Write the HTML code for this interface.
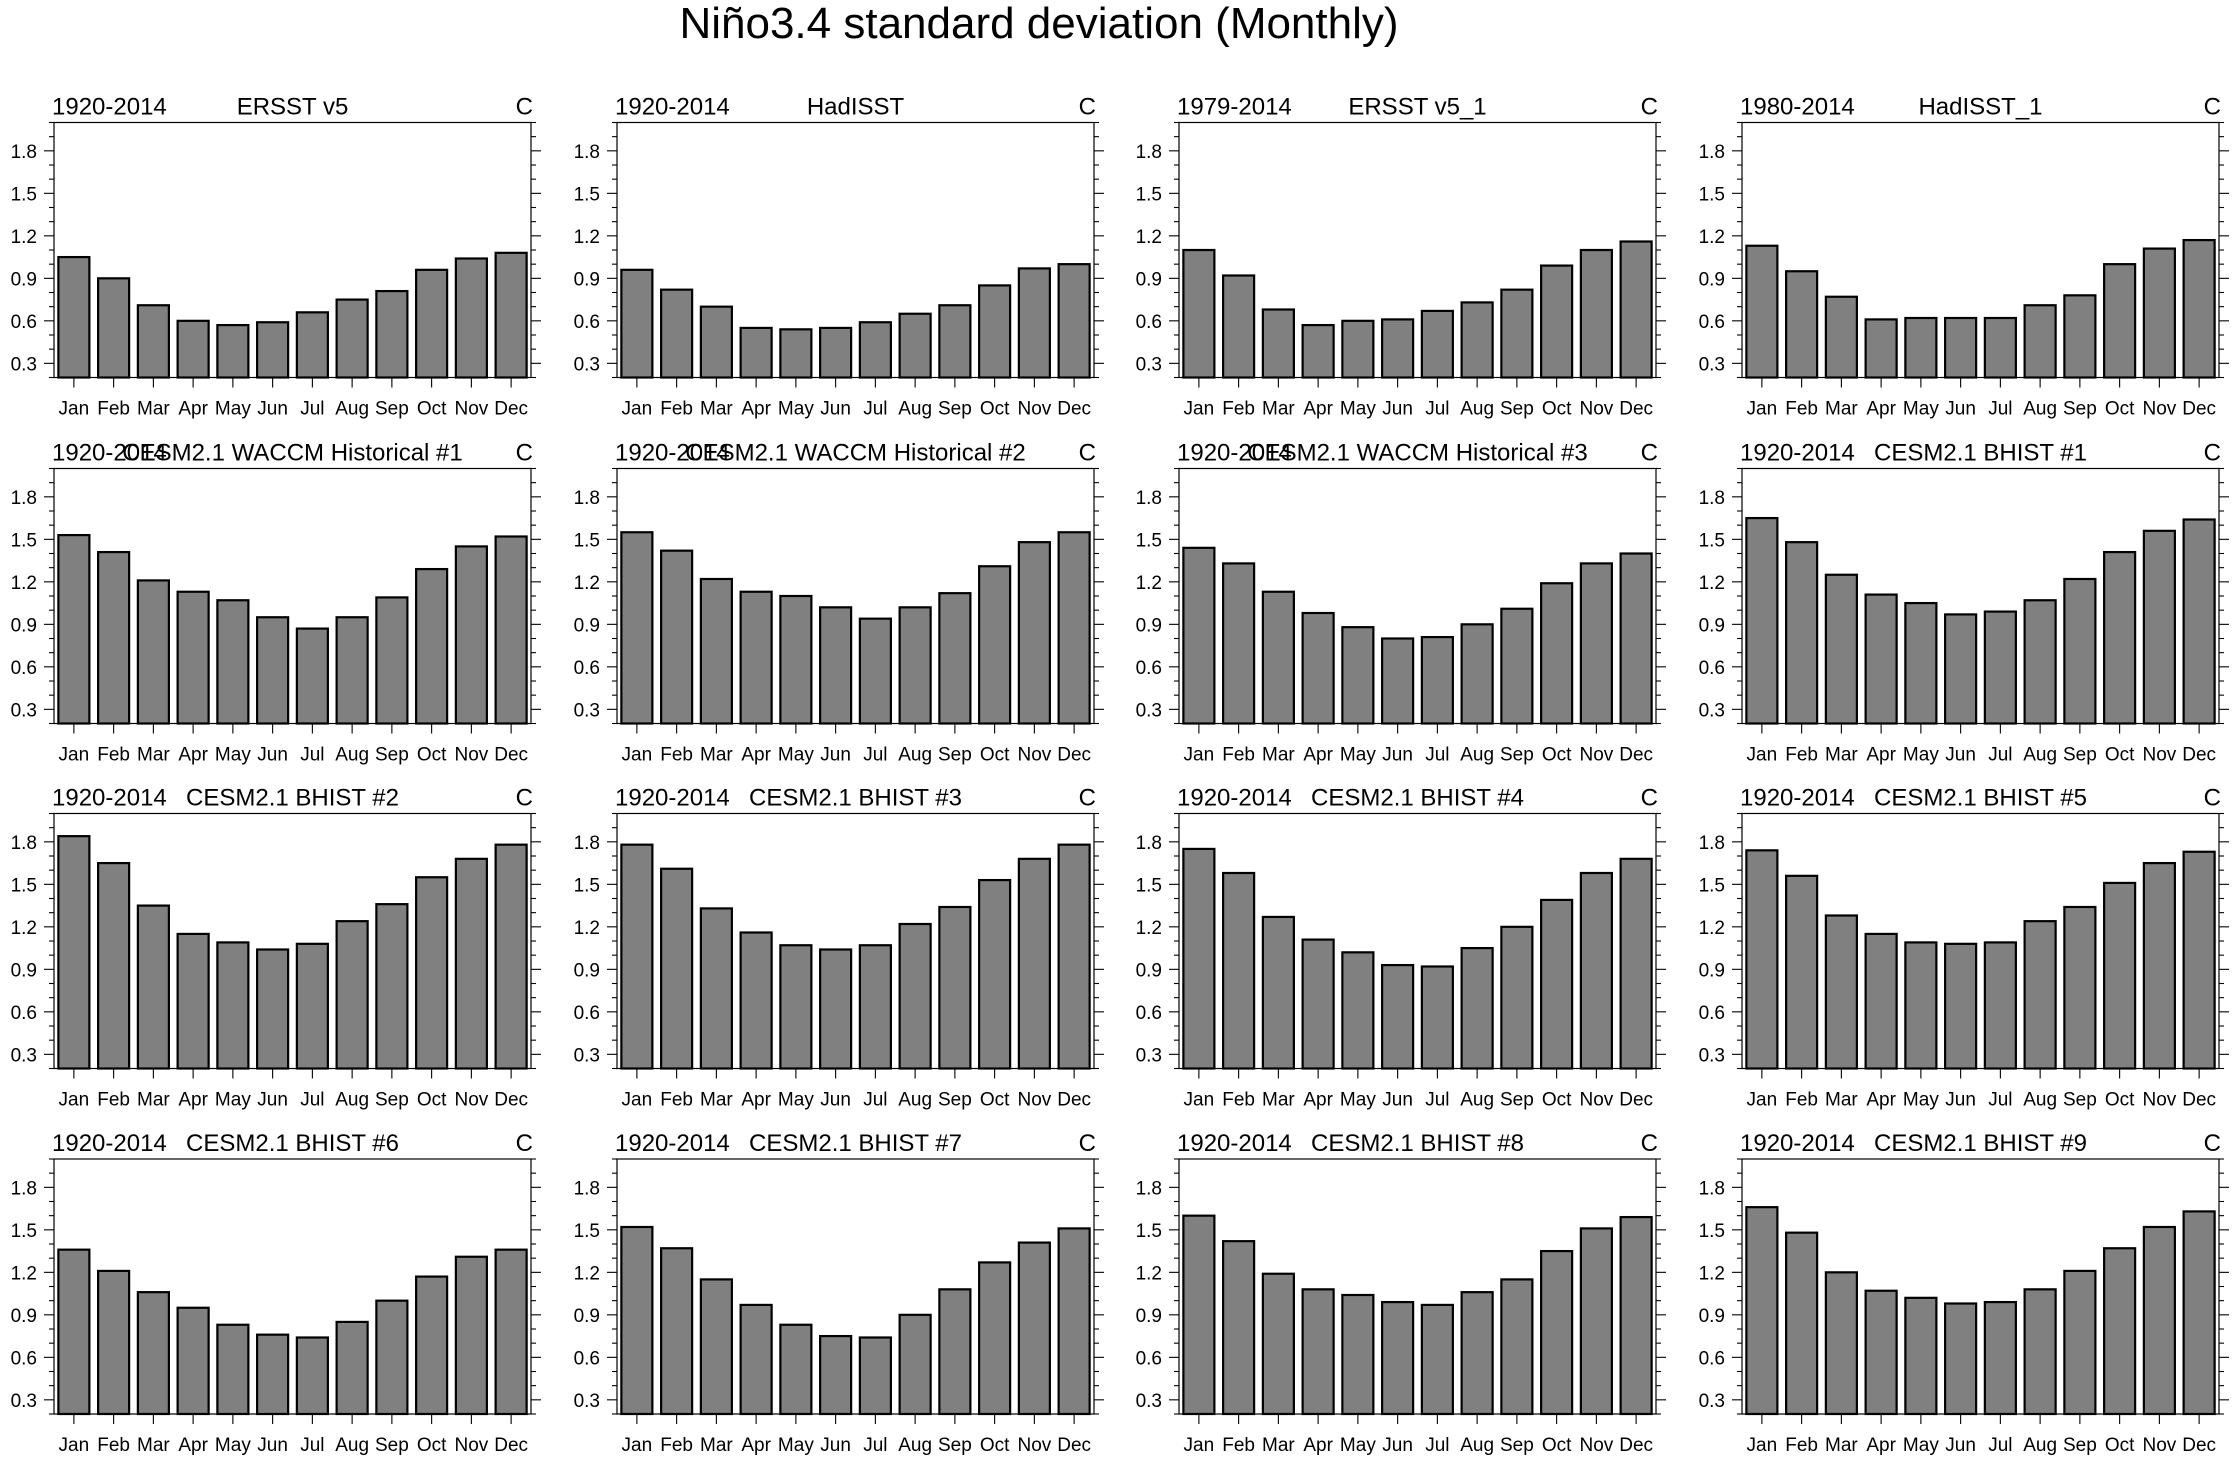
<!DOCTYPE html>
<html><head><meta charset="utf-8"><style>
html,body{margin:0;padding:0;background:#fff;}
svg{display:block;font-family:"Liberation Sans",Arial,sans-serif;}
</style></head><body>
<svg id="fig" width="2233" height="1463" viewBox="0 0 2233 1463">
<text x="1039" y="38" text-anchor="middle" font-size="44" fill="#000">Niño3.4 standard deviation (Monthly)</text>
</svg>
<script>
const months = ["Jan","Feb","Mar","Apr","May","Jun","Jul","Aug","Sep","Oct","Nov","Dec"];
const yTicks = [0.3,0.6,0.9,1.2,1.5,1.8];
const yTickLabels = ["0.3","0.6","0.9","1.2","1.5","1.8"];
const periods = ["1920-2014","1920-2014","1979-2014","1980-2014","1920-2014","1920-2014","1920-2014","1920-2014","1920-2014","1920-2014","1920-2014","1920-2014","1920-2014","1920-2014","1920-2014","1920-2014"];
const titles = ["ERSST v5","HadISST","ERSST v5_1","HadISST_1","CESM2.1 WACCM Historical #1","CESM2.1 WACCM Historical #2","CESM2.1 WACCM Historical #3","CESM2.1 BHIST #1","CESM2.1 BHIST #2","CESM2.1 BHIST #3","CESM2.1 BHIST #4","CESM2.1 BHIST #5","CESM2.1 BHIST #6","CESM2.1 BHIST #7","CESM2.1 BHIST #8","CESM2.1 BHIST #9"];
const s01 = [1.05,0.90,0.71,0.60,0.57,0.59,0.66,0.75,0.81,0.96,1.04,1.08];
const s02 = [0.96,0.82,0.70,0.55,0.54,0.55,0.59,0.65,0.71,0.85,0.97,1.00];
const s03 = [1.10,0.92,0.68,0.57,0.60,0.61,0.67,0.73,0.82,0.99,1.10,1.16];
const s04 = [1.13,0.95,0.77,0.61,0.62,0.62,0.62,0.71,0.78,1.00,1.11,1.17];
const s05 = [1.53,1.41,1.21,1.13,1.07,0.95,0.87,0.95,1.09,1.29,1.45,1.52];
const s06 = [1.55,1.42,1.22,1.13,1.10,1.02,0.94,1.02,1.12,1.31,1.48,1.55];
const s07 = [1.44,1.33,1.13,0.98,0.88,0.80,0.81,0.90,1.01,1.19,1.33,1.40];
const s08 = [1.65,1.48,1.25,1.11,1.05,0.97,0.99,1.07,1.22,1.41,1.56,1.64];
const s09 = [1.84,1.65,1.35,1.15,1.09,1.04,1.08,1.24,1.36,1.55,1.68,1.78];
const s10 = [1.78,1.61,1.33,1.16,1.07,1.04,1.07,1.22,1.34,1.53,1.68,1.78];
const s11 = [1.75,1.58,1.27,1.11,1.02,0.93,0.92,1.05,1.20,1.39,1.58,1.68];
const s12 = [1.74,1.56,1.28,1.15,1.09,1.08,1.09,1.24,1.34,1.51,1.65,1.73];
const s13 = [1.36,1.21,1.06,0.95,0.83,0.76,0.74,0.85,1.00,1.17,1.31,1.36];
const s14 = [1.52,1.37,1.15,0.97,0.83,0.75,0.74,0.90,1.08,1.27,1.41,1.51];
const s15 = [1.60,1.42,1.19,1.08,1.04,0.99,0.97,1.06,1.15,1.35,1.51,1.59];
const s16 = [1.66,1.48,1.20,1.07,1.02,0.98,0.99,1.08,1.21,1.37,1.52,1.63];
const series = [s01,s02,s03,s04,s05,s06,s07,s08,s09,s10,s11,s12,s13,s14,s15,s16];
const yMin = 0.2, yMax = 2.0;

const NS = "http://www.w3.org/2000/svg";
const svg = document.getElementById("fig");
function mk(tag, attrs, parent){
  const e = document.createElementNS(NS, tag);
  for (const k in attrs) e.setAttribute(k, attrs[k]);
  parent.appendChild(e);
  return e;
}
const colX = [54, 617, 1179, 1742];
const rowY = [122.5, 468.5, 813.5, 1159];
const W = 477, H = 255;

series.forEach((vals, p) => {
  const x0 = colX[p % 4], y0 = rowY[Math.floor(p / 4)];
  const yS = v => y0 + H - (v - yMin) / (yMax - yMin) * H;
  const xS = i => x0 + (i + 0.5) * W / 12;
  const g = mk("g", {}, svg);
  
  
  const bw = W / 12 * 0.78;
  vals.forEach((v, i) => {
    const r = mk("rect", {x: xS(i) - bw / 2, y: yS(v), width: bw, height: yS(yMin) - yS(v), fill: "#808080", stroke: "#000", "stroke-width": 2.2}, g);
    
    
  });
  const f = mk("rect", {x: x0, y: y0, width: W, height: H, fill: "none", stroke: "#000", "stroke-width": 1.2}, g);
  
  
  for (let k = 2; k <= 20; k++) {
    const v = k / 10, yy = yS(v);
    const major = yTicks.some(t => Math.abs(t - v) < 1e-6);
    const len = major ? 10 : 5;
    mk("line", {x1: x0 - len, x2: x0, y1: yy, y2: yy, stroke: "#000", "stroke-width": 1.1}, g);
    mk("line", {x1: x0 + W, x2: x0 + W + len, y1: yy, y2: yy, stroke: "#000", "stroke-width": 1.1}, g);
  }
  yTicks.forEach((t, j) => {
    const tl = mk("text", {x: x0 - 17, y: yS(t) + 7, "text-anchor": "end", "font-size": 19}, g);
    tl.textContent = yTickLabels[j];
    
    
  });
  months.forEach((m, i) => {
    mk("line", {x1: xS(i), x2: xS(i), y1: y0 + H, y2: y0 + H + 10, stroke: "#000", "stroke-width": 1.1}, g);
    const ml = mk("text", {x: xS(i), y: y0 + H + 37, "text-anchor": "middle", "font-size": 19}, g);
    ml.textContent = m;
    
    
  });
  const lt = mk("text", {x: x0 - 2, y: y0 - 8, "font-size": 24}, g);
  lt.textContent = periods[p];
  
  
  const ct = mk("text", {x: x0 + W / 2, y: y0 - 8, "text-anchor": "middle", "font-size": 24}, g);
  ct.textContent = titles[p];
  
  
  const rt = mk("text", {x: x0 + W + 2, y: y0 - 8, "text-anchor": "end", "font-size": 24}, g);
  rt.textContent = "C";
  
  
});
</script>
</body></html>
